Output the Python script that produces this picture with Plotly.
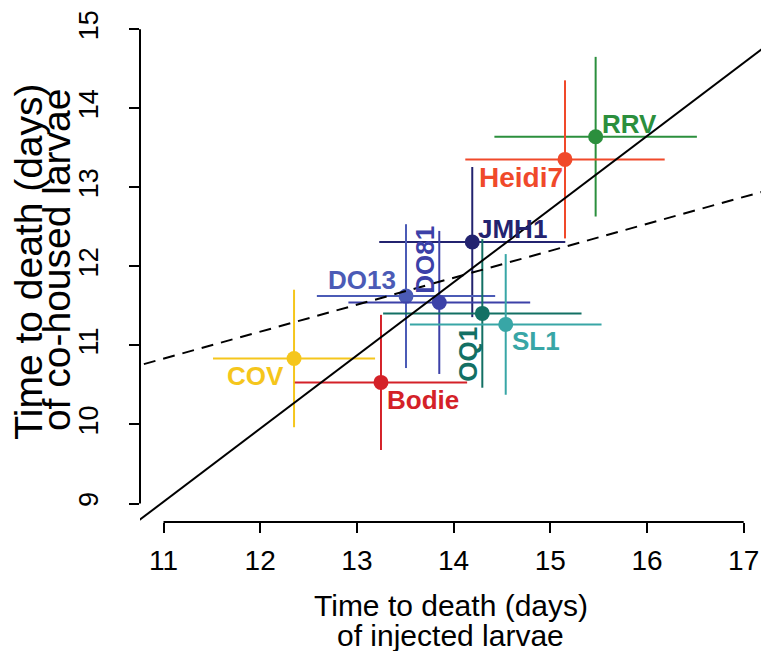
import plotly.graph_objects as go

# ---- data ----
strains = ["RRV", "Heidi7", "JMH1", "DO13", "DO81", "OQ1", "SL1", "COV", "Bodie"]
injected = [15.469, 15.152, 14.193, 13.508, 13.852, 14.297, 14.539, 12.350, 13.249]
injected_err = [1.047, 1.031, 0.962, 0.922, 0.940, 1.026, 0.991, 0.838, 0.891]
cohoused = [13.641, 13.354, 12.308, 11.624, 11.544, 11.405, 11.266, 10.835, 10.532]
cohoused_err = [1.01, 1.00, 0.95, 0.91, 0.905, 0.94, 0.89, 0.87, 0.855]
colors = ["#2b8f3d", "#f0492a", "#23236f", "#4b5bb6", "#3c41a8", "#137064", "#38a6a6", "#f5c61c", "#d42128"]

# regression lines (intercept, slope)
solid_fit = (-1.160, 0.9256)
dashed_fit = (7.082, 0.341)

x_ticks = [11, 12, 13, 14, 15, 16, 17]
y_ticks = [9, 10, 11, 12, 13, 14, 15]

# label placement (pixel offsets from point, rotation, font size)
label_style = {
    "RRV": (34, 13, 0, 26), "Heidi7": (-44, -18, 0, 28), "JMH1": (40, 13, 0, 26),
    "DO13": (-44, 16, 0, 26), "DO81": (-14, 43, -90, 26), "OQ1": (-14, -41, -90, 26),
    "SL1": (30, -17, 0, 26), "COV": (-39, -18, 0, 26), "Bodie": (42, -18, 0, 26),
}

FONT = "Liberation Sans, Arial, Helvetica, sans-serif"
XR = [10.757, 17.179]
YR = [8.766, 15.244]

fig = go.Figure()

for s, x, xe, y, ye, c in zip(strains, injected, injected_err, cohoused, cohoused_err, colors):
    fig.add_trace(go.Scatter(
        x=[x], y=[y], mode="markers",
        marker=dict(size=15, color=c),
        error_x=dict(type="data", array=[xe], width=0, thickness=2, color=c),
        error_y=dict(type="data", array=[ye], width=0, thickness=2, color=c),
        showlegend=False, hoverinfo="skip",
    ))

lx = [10.0, 18.0]
fig.add_trace(go.Scatter(
    x=lx, y=[solid_fit[0] + solid_fit[1] * v for v in lx], mode="lines",
    line=dict(color="black", width=2), showlegend=False, hoverinfo="skip"))
fig.add_trace(go.Scatter(
    x=lx, y=[dashed_fit[0] + dashed_fit[1] * v for v in lx], mode="lines",
    line=dict(color="black", width=2, dash="12px,8px"), showlegend=False, hoverinfo="skip"))

annotations = []
for s, x, y, c in zip(strains, injected, cohoused, colors):
    dx, dy, ang, fs = label_style[s]
    annotations.append(dict(
        x=x, y=y, xref="x", yref="y", text=f"<b>{s}</b>", showarrow=False,
        xshift=dx, yshift=dy, textangle=ang, xanchor="center", yanchor="middle",
        font=dict(family=FONT, size=fs, color=c)))

# axis titles
annotations += [
    dict(x=0.5, y=-0.163, xref="paper", yref="paper", text="Time to death (days)",
         showarrow=False, xanchor="center", yanchor="middle",
         font=dict(family=FONT, size=30, color="black")),
    dict(x=0.5, y=-0.222, xref="paper", yref="paper", text="of injected larvae",
         showarrow=False, xanchor="center", yanchor="middle",
         font=dict(family=FONT, size=30, color="black")),
    dict(x=0, y=12.06, xref="paper", yref="y", xshift=-111, text="Time to death (days)",
         showarrow=False, textangle=-90, xanchor="center", yanchor="middle",
         font=dict(family=FONT, size=39, color="black")),
    dict(x=0, y=12.08, xref="paper", yref="y", xshift=-84, text="of co-housed larvae",
         showarrow=False, textangle=-90, xanchor="center", yanchor="middle",
         font=dict(family=FONT, size=39, color="black")),
]

shapes = [
    dict(type="line", xref="x", yref="paper", x0=x_ticks[0], x1=x_ticks[-1], y0=0, y1=0,
         line=dict(color="black", width=2)),
    dict(type="line", xref="paper", yref="y", x0=0, x1=0, y0=y_ticks[0], y1=y_ticks[-1],
         line=dict(color="black", width=2)),
]

fig.update_layout(
    width=761, height=651,
    margin=dict(l=140, r=0, t=10, b=129),
    paper_bgcolor="white", plot_bgcolor="white",
    annotations=annotations, shapes=shapes,
    xaxis=dict(range=XR, tickvals=x_ticks, ticktext=[str(v) for v in x_ticks],
               showgrid=False, zeroline=False, showline=False,
               ticks="outside", ticklen=10, tickwidth=2, tickcolor="black",
               ticklabelstandoff=3,
               tickfont=dict(family=FONT, size=28, color="black")),
    yaxis=dict(range=YR, tickvals=y_ticks, ticktext=[str(v) for v in y_ticks],
               showgrid=False, zeroline=False, showline=False,
               ticks="outside", ticklen=10, tickwidth=2, tickcolor="black",
               tickangle=-90, ticklabelstandoff=20,
               tickfont=dict(family=FONT, size=27, color="black")),
)

# remove the default page margin so the 761x651 figure fills the window exactly
fig.write_html(
    "out.html",
    config={"displayModeBar": False},
    post_script=("document.documentElement.style.margin='0';"
                 "document.body.style.margin='0';"
                 "document.body.style.overflow='hidden';"
                 "document.documentElement.style.overflow='hidden';"),
)
